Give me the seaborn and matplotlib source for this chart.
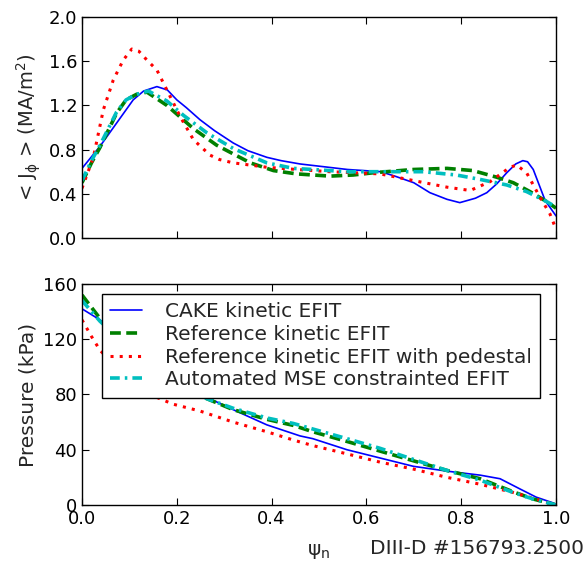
import numpy as np
import pandas as pd
import matplotlib
matplotlib.use("Agg")
import matplotlib.pyplot as plt
import seaborn as sns

# Current density <J_phi> (MA/m^2) vs psi_n
cake_j_x = [0, 0.038, 0.073, 0.108, 0.13, 0.158, 0.18, 0.2, 0.22, 0.249, 0.28, 0.319, 0.35,
            0.39, 0.42, 0.46, 0.52, 0.56, 0.63, 0.66, 0.70, 0.734, 0.77, 0.797, 0.83, 0.854,
            0.875, 0.896, 0.915, 0.93, 0.94, 0.952, 0.977, 1.0]
cake_j_y = [0.63, 0.83, 1.04, 1.25, 1.33, 1.37, 1.34, 1.25, 1.18, 1.07, 0.97, 0.86, 0.79,
            0.73, 0.70, 0.67, 0.64, 0.62, 0.60, 0.56, 0.50, 0.41, 0.35, 0.32, 0.36, 0.41,
            0.49, 0.59, 0.67, 0.70, 0.69, 0.62, 0.34, 0.20]

ref_j_x = [0, 0.02, 0.038, 0.073, 0.093, 0.115, 0.137, 0.179, 0.235, 0.284, 0.355, 0.404, 0.453,
           0.523, 0.572, 0.614, 0.699, 0.77, 0.825, 0.875, 0.91, 0.945, 0.98, 1.0]
ref_j_y = [0.50, 0.68, 0.82, 1.13, 1.25, 1.30, 1.32, 1.20, 0.99, 0.84, 0.68, 0.61, 0.58,
           0.56, 0.57, 0.59, 0.62, 0.63, 0.61, 0.55, 0.50, 0.42, 0.33, 0.27]

ped_j_x = [0, 0.024, 0.045, 0.066, 0.087, 0.105, 0.12, 0.137, 0.158, 0.179, 0.207, 0.235, 0.27,
           0.29, 0.319, 0.39, 0.453, 0.523, 0.629, 0.699, 0.77, 0.819, 0.861, 0.903, 0.917,
           0.938, 0.966, 0.987, 1.0]
ped_j_y = [0.45, 0.73, 1.16, 1.43, 1.61, 1.71, 1.69, 1.61, 1.52, 1.34, 1.10, 0.89, 0.75,
           0.71, 0.68, 0.64, 0.62, 0.60, 0.58, 0.52, 0.46, 0.43, 0.51, 0.64, 0.66,
           0.59, 0.37, 0.22, 0.08]

mse_j_x = [0, 0.02, 0.038, 0.073, 0.093, 0.115, 0.14, 0.179, 0.214, 0.264, 0.319, 0.39, 0.446,
           0.487, 0.559, 0.629, 0.72, 0.79, 0.84, 0.896, 0.938, 0.98, 1.0]
mse_j_y = [0.52, 0.70, 0.84, 1.14, 1.25, 1.30, 1.33, 1.24, 1.11, 0.95, 0.81, 0.68, 0.63,
           0.62, 0.60, 0.60, 0.60, 0.57, 0.53, 0.48, 0.42, 0.33, 0.28]

# Pressure (kPa) vs psi_n
cake_p_x = [0, 0.038, 0.1, 0.15, 0.2, 0.263, 0.319, 0.39, 0.46, 0.487, 0.559, 0.629, 0.699,
            0.77, 0.84, 0.882, 0.924, 0.958, 0.994, 1.0]
cake_p_y = [142, 134, 117, 104, 92, 78, 69, 58, 50, 48, 40, 34, 28,
            24.5, 21.6, 19, 11.6, 5.7, 1.5, 0.5]

ref_p_x = [0, 0.038, 0.1, 0.15, 0.2, 0.263, 0.319, 0.39, 0.446, 0.487, 0.559, 0.629, 0.699,
           0.77, 0.84, 0.91, 0.95, 1.0]
ref_p_y = [152, 135, 115, 102, 91, 77, 69, 62, 57.6, 53, 46, 39, 32,
           25, 19, 9.5, 4.5, 0]

ped_p_x = [0, 0.02, 0.038, 0.1, 0.15, 0.192, 0.249, 0.319, 0.39, 0.446, 0.487, 0.559, 0.629,
           0.699, 0.77, 0.84, 0.91, 0.98, 1.0]
ped_p_y = [134, 122, 112, 90, 79, 73, 68, 60, 53, 47, 43, 37, 31,
           26, 20, 15, 9, 2, 0]

mse_p_x = [0, 0.038, 0.1, 0.15, 0.2, 0.263, 0.319, 0.39, 0.446, 0.487, 0.559, 0.629, 0.699,
           0.77, 0.84, 0.91, 0.95, 1.0]
mse_p_y = [148, 133, 114, 101, 90, 77, 70, 63, 59, 55, 48, 41, 33,
           25, 18, 9, 4.5, 0]

labels = ["CAKE kinetic EFIT", "Reference kinetic EFIT",
          "Reference kinetic EFIT with pedestal", "Automated MSE constrainted EFIT"]

sns.set_style("ticks")
plt.rcParams["font.family"] = ["DejaVu Sans"]
plt.rcParams["mathtext.fontset"] = "dejavusans"
plt.rcParams.update({
    "font.size": 14.5,
    "xtick.direction": "in", "ytick.direction": "in",
    "xtick.top": True, "ytick.right": True,
    "xtick.major.size": 5, "ytick.major.size": 5,
    "xtick.labelsize": 13, "ytick.labelsize": 13,
    "axes.labelsize": 14.5,
    "axes.edgecolor": "black", "axes.linewidth": 1.0,
    "xtick.color": "black", "ytick.color": "black",
})

styles = [
    dict(color="#0000ff", lw=1.2, linestyle="-"),
    dict(color="#008000", lw=2.6, linestyle=(0, (3, 1.5))),
    dict(color="#ff0000", lw=2.2, linestyle=(0, (1, 2))),
    dict(color="#00bfbf", lw=2.6, linestyle=(0, (2.7, 1.4, 0.7, 1.4))),
]

fig = plt.figure(figsize=(5.87, 5.66), dpi=100)
ax1 = fig.add_axes([0.1397, 0.5795, 0.8075, 0.3905])
ax2 = fig.add_axes([0.1397, 0.1078, 0.8075, 0.3905])

top = [(cake_j_x, cake_j_y), (ref_j_x, ref_j_y), (ped_j_x, ped_j_y), (mse_j_x, mse_j_y)]
bot = [(cake_p_x, cake_p_y), (ref_p_x, ref_p_y), (ped_p_x, ped_p_y), (mse_p_x, mse_p_y)]

for (x, y), st in zip(top, styles):
    sns.lineplot(x=x, y=y, ax=ax1, sort=False, **st)
for (x, y), st, lab in zip(bot, styles, labels):
    sns.lineplot(x=x, y=y, ax=ax2, sort=False, label=lab, **st)

ax1.set_xlim(0, 1)
ax1.set_ylim(0, 2.0)
ax1.set_yticks(np.arange(0, 2.01, 0.4))
ax1.set_yticklabels([f"{v:.1f}" for v in np.arange(0, 2.01, 0.4)])
ax1.set_xticks(np.arange(0, 1.01, 0.2))
ax1.set_xticklabels([])
ax1.set_ylabel(r"< J$_\mathregular{ϕ}$ > (MA/m$^\mathregular{2}$)", fontsize=14)

ax2.set_xlim(0, 1)
ax2.set_ylim(0, 160)
ax2.set_yticks(np.arange(0, 161, 40))
ax2.set_xticks(np.arange(0, 1.01, 0.2))
ax2.set_xticklabels([f"{v:.1f}" for v in np.arange(0, 1.01, 0.2)])
ax2.set_ylabel("Pressure (kPa)")
ax2.set_xlabel(r"ψ$_\mathregular{n}$", labelpad=10)

leg = ax2.legend(loc="upper left", bbox_to_anchor=(0.042, 0.955), borderaxespad=0,
                 fancybox=False, framealpha=1, edgecolor="black", fontsize=14.5,
                 handlelength=1.55, handletextpad=1.15, borderpad=0.42, labelspacing=0.18)
leg.get_frame().set_linewidth(1.0)

for ax in (ax1, ax2):
    for s in ax.spines.values():
        s.set_visible(True)
        s.set_color("black")

fig.text(0.995, 0.015, "DIII-D #156793.2500", ha="right", va="bottom", fontsize=14.5)

fig.savefig("out.png", dpi=100)
